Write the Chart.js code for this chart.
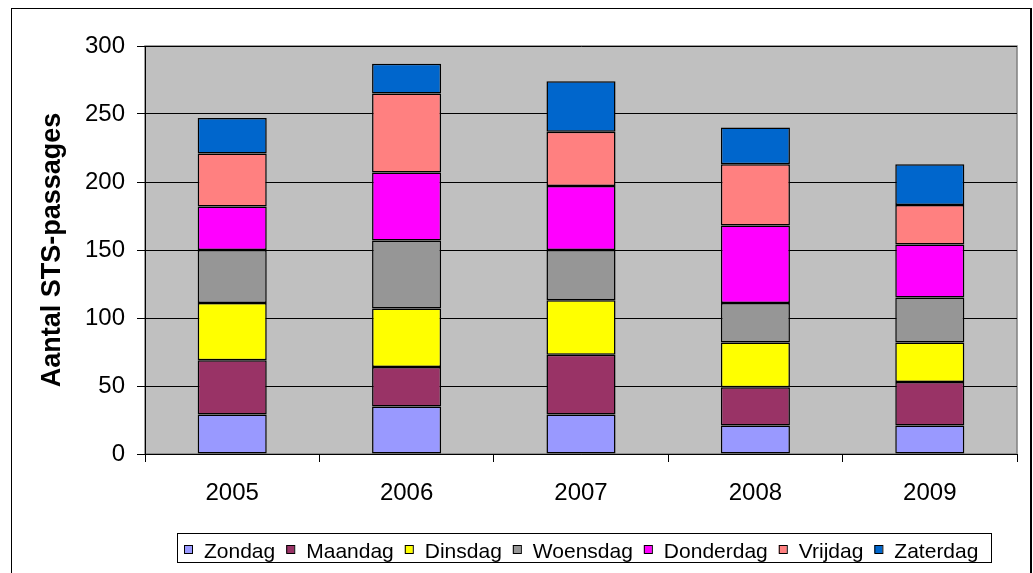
<!DOCTYPE html>
<html>
<head>
<meta charset="utf-8">
<script src="https://cdn.jsdelivr.net/npm/chart.js"></script>
<style>
    body { margin: 0; background: #fff; }
    canvas { display: block; }
</style>
</head>
<body>
<canvas id="myChart" width="1033" height="573"></canvas>
<script>
const years = ['2005', '2006', '2007', '2008', '2009'];

const zondag    = [29, 35, 29, 21, 21];
const maandag   = [40, 29, 44, 28, 32];
const dinsdag   = [42, 43, 40, 33, 29];
const woensdag  = [39, 50, 37, 29, 33];
const donderdag = [32, 50, 47, 57, 39];
const vrijdag   = [39, 58, 40, 45, 29];
const zaterdag  = [26, 22, 37, 27, 30];

const yTicks = [0, 50, 100, 150, 200, 250, 300];

const FONT = '"Liberation Sans", Arial, sans-serif';

// grey plot area + outer frame
const frame = {
    id: 'frame',
    beforeDraw(chart) {
        const { ctx, chartArea: a } = chart;
        ctx.save();
        ctx.fillStyle = '#fff';
        ctx.fillRect(0, 0, chart.width, chart.height);
        ctx.strokeStyle = '#000';
        ctx.lineWidth = 1;
        ctx.strokeRect(11.5, 8.5, chart.width - 13, chart.height + 20);
        ctx.lineWidth = 2;
        ctx.beginPath();
        ctx.moveTo(chart.width - 2, 8);
        ctx.lineTo(chart.width - 2, chart.height);
        ctx.stroke();
        ctx.fillStyle = '#c0c0c0';
        ctx.fillRect(a.left, a.top, a.right - a.left, a.bottom - a.top);
        ctx.strokeStyle = '#808080';
        ctx.lineWidth = 1.5;
        ctx.strokeRect(a.left, a.top, a.right - a.left, a.bottom - a.top);
        ctx.restore();
    }
};

// legend in a box, drawn under the plot
const legendBox = {
    id: 'legendBox',
    afterDraw(chart) {
        const { ctx, chartArea: a } = chart;
        const box = 8, gap = 12, space = 11;
        ctx.save();
        ctx.font = '21px ' + FONT;
        const items = chart.data.datasets.map(ds => ({
            text: ds.label,
            color: ds.backgroundColor,
            w: ctx.measureText(ds.label).width
        }));
        const total = items.reduce((s, it) => s + box + gap + it.w, 0) + space * (items.length - 1);
        let x = Math.round((a.left + a.right) / 2 - total / 2);
        const top = Math.round(a.bottom) + 79;

        ctx.strokeStyle = '#000';
        ctx.lineWidth = 1;
        ctx.strokeRect(x - 7 + 0.5, top + 0.5, Math.round(total + 20), 29);

        ctx.textBaseline = 'alphabetic';
        items.forEach(it => {
            ctx.fillStyle = it.color;
            ctx.fillRect(x, top + 12, box, box);
            ctx.strokeRect(x + 0.5, top + 12.5, box, box);
            ctx.fillStyle = '#000';
            ctx.fillText(it.text, x + box + gap, top + 25);
            x += box + gap + it.w + space;
        });
        ctx.restore();
    }
};

function dataset(label, data, color) {
    return {
        label: label,
        data: data,
        backgroundColor: color,
        borderColor: '#000',
        borderWidth: 1.5,
        borderSkipped: false,
        barPercentage: 0.396,
        categoryPercentage: 1.0
    };
}

const ctx = document.getElementById('myChart').getContext('2d');
const myChart = new Chart(ctx, {
    type: 'bar',
    data: {
        labels: years,
        datasets: [
            dataset('Zondag',    zondag,    '#9999FF'),
            dataset('Maandag',   maandag,   '#993366'),
            dataset('Dinsdag',   dinsdag,   '#FFFF00'),
            dataset('Woensdag',  woensdag,  '#969696'),
            dataset('Donderdag', donderdag, '#FF00FF'),
            dataset('Vrijdag',   vrijdag,   '#FF8080'),
            dataset('Zaterdag',  zaterdag,  '#0066CC'),
        ],
    },
    options: {
        responsive: false,
        animation: false,
        devicePixelRatio: 1,
        layout: { padding: { left: 0, top: 46, right: 16, bottom: 69 } },
        plugins: {
            legend: { display: false },
            tooltip: { enabled: false },
        },
        scales: {
            x: {
                stacked: true,
                grid: { drawOnChartArea: false, drawTicks: true, tickLength: 8, color: '#000', offset: true },
                border: { display: true, color: '#000', width: 1 },
                ticks: { color: '#000', font: { family: FONT, size: 24 }, padding: 17, maxRotation: 0 },
                afterFit: scale => { scale.height = 50; },
            },
            y: {
                stacked: true,
                min: 0,
                max: 300,
                afterBuildTicks: scale => { scale.ticks = yTicks.map(v => ({ value: v })); },
                grid: { color: '#000', lineWidth: 1, tickLength: 8 },
                border: { display: true, color: '#000', width: 1 },
                ticks: { color: '#000', font: { family: FONT, size: 24 }, padding: 12 },
                title: {
                    display: true,
                    text: 'Aantal STS-passages',
                    color: '#000',
                    font: { family: FONT, size: 27, weight: 'bold' },
                    padding: { top: 36, bottom: 0 },
                },
                afterFit: scale => { scale.width = 145; },
            },
        },
    },
    plugins: [frame, legendBox],
});
</script>
</body>
</html>
